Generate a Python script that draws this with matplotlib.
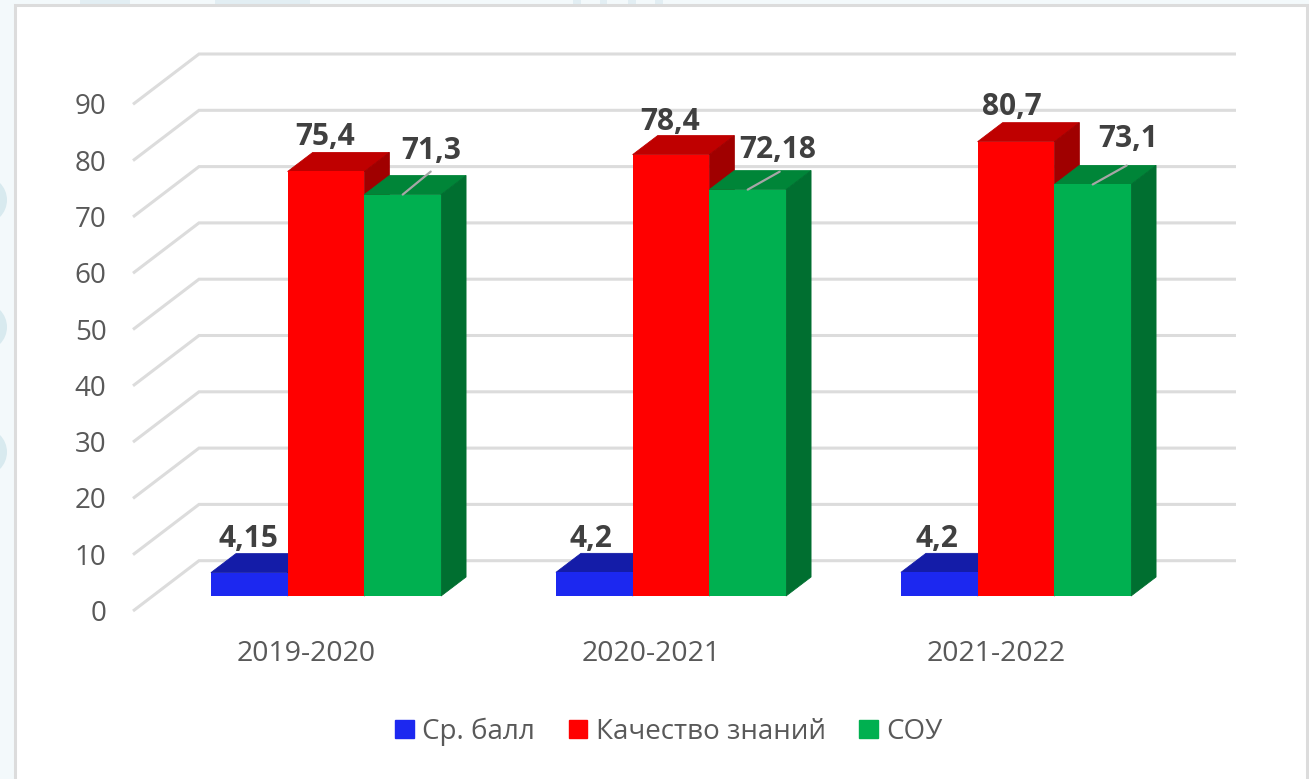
import matplotlib
matplotlib.use("Agg")
import matplotlib.pyplot as plt
import numpy as np
from matplotlib.patches import Circle, Patch, Polygon, Rectangle

plt.rcParams["font.family"] = ["Open Sans", "DejaVu Sans"]

# data
years = ["2019-2020", "2020-2021", "2021-2022"]
sr_ball = [4.15, 4.2, 4.2]
kachestvo = [75.4, 78.4, 80.7]
sou = [71.3, 72.18, 73.1]
sr_ball_text = ["4,15", "4,2", "4,2"]
kachestvo_text = ["75,4", "78,4", "80,7"]
sou_text = ["71,3", "72,18", "73,1"]
y_ticks = np.arange(0, 100, 10)
series_names = ["Ср. балл", "Качество знаний", "СОУ"]

W, H = 1309, 779
X0, XSTEP = 326, 345    # px of first group centre, group spacing
Y0, YSCALE = 596, 5.63  # px of value 0 on the bar front, px per unit
BAR_W = 76.7 / XSTEP
DX, DY = 25 / XSTEP, 19 / YSCALE       # bar depth
FLOOR_DROP = 15 / YSCALE               # front floor edge is below the bar base
WALL_X, WALL_Y = 66 / XSTEP, 50.3 / YSCALE

colors = {
    "blue": ("#1C28F0", "#141CA8", "#101680"),
    "red": ("#FF0000", "#BF0000", "#A00000"),
    "green": ("#00B050", "#008538", "#006F30"),
}
TEXT = "#595959"
LABEL = "#404040"
GRID = "#DCDCDC"

fig = plt.figure(figsize=(W / 100, H / 100), dpi=100, facecolor="#F3F9FB")

# background behind the chart panel
for cy in [200, 327, 452]:
    fig.add_artist(Circle((-17, H - cy), 24, color="#D8EAEF", lw=0, transform=None, zorder=-3))
for bx, bw in [(80, 50), (215, 95), (573, 8), (600, 7), (628, 8), (655, 8)]:
    fig.add_artist(Rectangle((bx, H - 4), bw, 4, color="#E2EEF3", lw=0, transform=None, zorder=-3))
fig.add_artist(Rectangle((15 / W, -0.01), (1307 - 15) / W, (H - 5) / H + 0.01,
                         transform=fig.transFigure, facecolor="white",
                         edgecolor="#DCDCDC", lw=2.2, zorder=-2))

# bottom is a little under the wall lines so the "0" tick stays inside the view
left, right, top, bottom = 133, 1236, 50, 616
ax = fig.add_axes([left / W, (H - bottom) / H, (right - left) / W, (bottom - top) / H])
ax.patch.set_alpha(0)
ax.set_xlim((left - X0) / XSTEP, (right - X0) / XSTEP)
ax.set_ylim((Y0 - bottom) / YSCALE, (Y0 - top) / YSCALE)
for s in ax.spines.values():
    s.set_visible(False)

# back wall grid lines with the diagonal on the side wall
x_start, x_end = ax.get_xlim()
for v in y_ticks:
    yf = v - FLOOR_DROP
    ax.plot([x_start, x_start + WALL_X, x_end], [yf, yf + WALL_Y, yf + WALL_Y],
            color=GRID, lw=2.2, solid_joinstyle="miter", solid_capstyle="butt",
            clip_on=False, zorder=1)

# category labels sit left of the group centres, value labels a bit under the wall lines
ax.set_xticks(np.arange(len(years)) - 20 / XSTEP, years, color=TEXT, fontsize=20.5)
ax.set_yticks(y_ticks - FLOOR_DROP + 0.5 / YSCALE, [str(v) for v in y_ticks],
              color=TEXT, fontsize=20)
ax.tick_params(axis="x", length=0, pad=17.5)
ax.tick_params(axis="y", length=0, pad=19)


def bar3d(x, value, cols, z):
    # front face, then the top and the side as parallelograms
    xl, xr = x - BAR_W / 2, x + BAR_W / 2
    ax.bar(x, value, width=BAR_W, color=cols[0], zorder=z + 0.2)
    ax.add_patch(Polygon([(xl, value), (xr, value), (xr + DX, value + DY), (xl + DX, value + DY)],
                         facecolor=cols[1], edgecolor=cols[1], lw=0.6, zorder=z))
    ax.add_patch(Polygon([(xr, 0), (xr + DX, DY), (xr + DX, value + DY), (xr, value)],
                         facecolor=cols[2], edgecolor=cols[2], lw=0.6, zorder=z))


for i in range(len(years)):
    bar3d(i - BAR_W, sr_ball[i], colors["blue"], 2)
    bar3d(i, kachestvo[i], colors["red"], 3)
    bar3d(i + BAR_W, sou[i], colors["green"], 4)

# data labels, offsets in px from the top of the bar front
blue_off = [(-1, 34), (-3, 33), (-2, 33)]
red_off = [(-1, 34), (-1, 33), (-4, 35)]
green_off = [(28, 44), (30, 40), (35, 45)]
leader_off = [(28, 23), (32, 18), (34, 19)]


def bar_label(x, v, txt, off):
    ax.annotate(txt, (x, v), xytext=off, textcoords="offset pixels",
                ha="center", va="center", fontsize=21.5, fontweight="bold",
                color=LABEL, zorder=6)


for i in range(len(years)):
    bar_label(i - BAR_W, sr_ball[i], sr_ball_text[i], blue_off[i])
    bar_label(i, kachestvo[i], kachestvo_text[i], red_off[i])
    bar_label(i + BAR_W, sou[i], sou_text[i], green_off[i])
    ax.annotate("", (i + BAR_W, sou[i]), xytext=leader_off[i], textcoords="offset pixels",
                arrowprops=dict(arrowstyle="-", color="#A6A6A6", lw=1.6, shrinkA=0, shrinkB=0),
                zorder=6)

handles = [Patch(color=colors[c][0]) for c in ["blue", "red", "green"]]
fig.legend(handles, series_names, loc="center", bbox_to_anchor=(669 / W, (H - 732) / H),
           ncol=3, frameon=False, fontsize=20, labelcolor=TEXT, handlelength=0.66,
           handleheight=0.62, handletextpad=0.32, columnspacing=1.2)

fig.savefig("out.png", dpi=100, facecolor=fig.get_facecolor())
